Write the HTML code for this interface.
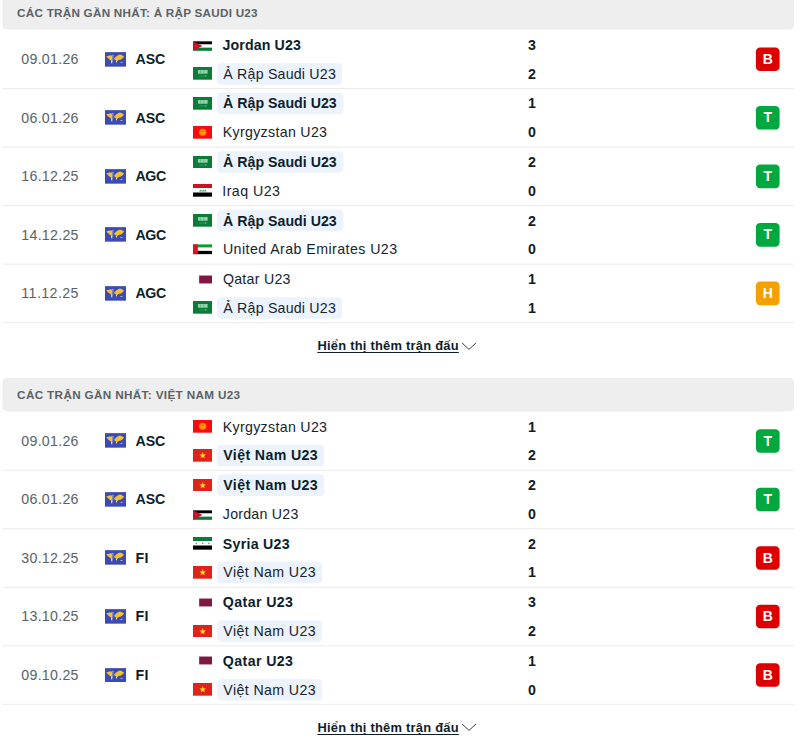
<!DOCTYPE html>
<html lang="vi"><head><meta charset="utf-8"><title>H2H</title><style>
html,body{margin:0;padding:0;background:#fff;}
body{width:800px;height:756px;position:relative;overflow:hidden;font-family:"Liberation Sans", sans-serif;}
.bg{position:absolute;left:0;top:0;display:block;}
.t{position:absolute;white-space:pre;line-height:16px;}
.fl{position:absolute;display:block;overflow:hidden;}
</style></head>
<body>

<svg class="bg" width="800" height="756" viewBox="0 0 800 756">
<rect x="2.5" y="-4.2" width="791.6" height="33.8" rx="4.5" fill="#eeeeee"/>
<rect x="217.2" y="63.15" width="124.90" height="21.5" rx="4" fill="#ecf3fc"/>
<rect x="755.9" y="47.50" width="23.7" height="23.6" rx="4.2" fill="#dc0000"/>
<rect x="2.5" y="88.10" width="791.6" height="1" fill="#ebebeb"/>
<rect x="217.2" y="92.82" width="126.15" height="21.5" rx="4" fill="#ecf3fc"/>
<rect x="755.9" y="106.02" width="23.7" height="23.6" rx="4.2" fill="#00a83f"/>
<rect x="2.5" y="146.62" width="791.6" height="1" fill="#ebebeb"/>
<rect x="217.2" y="151.34" width="126.15" height="21.5" rx="4" fill="#ecf3fc"/>
<rect x="755.9" y="164.54" width="23.7" height="23.6" rx="4.2" fill="#00a83f"/>
<rect x="2.5" y="205.14" width="791.6" height="1" fill="#ebebeb"/>
<rect x="217.2" y="209.86" width="126.15" height="21.5" rx="4" fill="#ecf3fc"/>
<rect x="755.9" y="223.06" width="23.7" height="23.6" rx="4.2" fill="#00a83f"/>
<rect x="2.5" y="263.66" width="791.6" height="1" fill="#ebebeb"/>
<rect x="217.2" y="297.23" width="124.90" height="21.5" rx="4" fill="#ecf3fc"/>
<rect x="755.9" y="281.58" width="23.7" height="23.6" rx="4.2" fill="#f3a000"/>
<rect x="2.5" y="322.18" width="791.6" height="1" fill="#ebebeb"/>
<rect x="2.5" y="378.1" width="791.6" height="33.3" rx="4.5" fill="#eeeeee"/>
<rect x="217.2" y="444.80" width="106.80" height="21.5" rx="4" fill="#ecf3fc"/>
<rect x="755.9" y="429.15" width="23.7" height="23.6" rx="4.2" fill="#00a83f"/>
<rect x="2.5" y="469.75" width="791.6" height="1" fill="#ebebeb"/>
<rect x="217.2" y="474.47" width="106.80" height="21.5" rx="4" fill="#ecf3fc"/>
<rect x="755.9" y="487.67" width="23.7" height="23.6" rx="4.2" fill="#00a83f"/>
<rect x="2.5" y="528.27" width="791.6" height="1" fill="#ebebeb"/>
<rect x="217.2" y="561.84" width="104.80" height="21.5" rx="4" fill="#ecf3fc"/>
<rect x="755.9" y="546.19" width="23.7" height="23.6" rx="4.2" fill="#dc0000"/>
<rect x="2.5" y="586.79" width="791.6" height="1" fill="#ebebeb"/>
<rect x="217.2" y="620.36" width="104.80" height="21.5" rx="4" fill="#ecf3fc"/>
<rect x="755.9" y="604.71" width="23.7" height="23.6" rx="4.2" fill="#dc0000"/>
<rect x="2.5" y="645.31" width="791.6" height="1" fill="#ebebeb"/>
<rect x="217.2" y="678.88" width="104.80" height="21.5" rx="4" fill="#ecf3fc"/>
<rect x="755.9" y="663.23" width="23.7" height="23.6" rx="4.2" fill="#dc0000"/>
<rect x="2.5" y="703.83" width="791.6" height="1" fill="#ebebeb"/>
</svg>
<span class="t" style="top:5px;font-size:11.7px;font-weight:700;color:#596266;letter-spacing:0.250px;left:17.10px;">CÁC TRẬN GẦN NHẤT: Ả RẬP SAUDI U23</span>
<span class="t" style="top:51px;font-size:14.2px;font-weight:400;color:#596266;letter-spacing:0.281px;left:21.30px;">09.01.26</span>
<svg class="fl" style="left:105px;top:51.80px" width="21.3" height="14.8" viewBox="0 0 22 15"><rect width="22" height="15" fill="#3b4ab4"/>
<path d="M1.2 4.5 L3.6 3.7 L6.6 3.1 L7.7 4.6 L7.5 7.1 L6.8 9 L4.65 7.5 L2.85 5.95 Z" fill="#f4c12d"/>
<path d="M6.2 8.5 L7.8 9 L7.3 12 L6.4 11.1 Z" fill="#ece6d6"/>
<circle cx="8.1" cy="3.2" r=".55" fill="#e4e1dc"/>
<path d="M8.5 3.4 L7.95 9" stroke="#c3c6e0" stroke-width=".6" fill="none"/>
<path d="M9.2 7.1 L11.2 4.7 L13.4 3.25 L15.5 2.4 L17.6 3.25 L19.7 4.55 L18.3 6.35 L16.5 7.55 L14.5 7.75 L12.65 9.1 L11.4 8.7 L10.3 7.9 Z" fill="#f4c12d"/>
<path d="M11.3 8.6 L12.65 9 L12.1 10.85 L11.4 10.5 Z" fill="#efd79a"/>
<path d="M15.9 10.1 L18.1 10.2 L18 11.05 L16.1 10.95 Z" fill="#d9d6c8"/>
</svg>
<span class="t" style="top:51px;font-size:14.2px;font-weight:700;color:#0e1e2b;letter-spacing:-0.184px;left:135.60px;">ASC</span>
<svg class="fl" style="left:193px;top:38.50px" width="19.2" height="12.7" viewBox="0 0 19 13" preserveAspectRatio="none"><rect y="2.4" width="19" height="3.25" fill="#000"/><rect y="5.65" width="19" height="3.2" fill="#fff"/><rect y="8.85" width="19" height="3.25" fill="#0a7a35"/><path d="M0 2.4 L9.3 7.25 L0 12.1 Z" fill="#ce1126"/><circle cx="3" cy="7.25" r="0.8" fill="#e0304a"/></svg>
<span class="t" style="top:37px;font-size:14.2px;font-weight:700;color:#0e1e2b;letter-spacing:0.124px;left:222.50px;">Jordan U23</span>
<span class="t" style="top:37px;font-size:14.2px;font-weight:700;color:#0e1e2b;left:512.00px;width:40px;text-align:center;">3</span>
<svg class="fl" style="left:193px;top:67.35px" width="19.2" height="12.7" viewBox="0 0 19 13" preserveAspectRatio="none"><rect width="19" height="13" fill="#0b7c38"/><rect x="4.9" y="3.1" width="9.6" height="3.7" rx=".4" fill="#a2d9b7" opacity=".9"/><rect x="7.2" y="3.1" width=".7" height="3.7" fill="#0b7c38" opacity=".35"/><rect x="10.4" y="3.1" width=".7" height="3.7" fill="#0b7c38" opacity=".35"/><rect x="6.2" y="8.9" width="6.4" height=".7" fill="#3fa468"/><rect x="12.2" y="8.5" width="1.1" height="1.3" fill="#6dd095"/></svg>
<span class="t" style="top:66px;font-size:14.2px;font-weight:400;color:#16242f;letter-spacing:0.204px;left:223.30px;">Ả Rập Saudi U23</span>
<span class="t" style="top:66px;font-size:14.2px;font-weight:700;color:#0e1e2b;left:512.00px;width:40px;text-align:center;">2</span>
<span class="t" style="top:51px;font-size:14.0px;font-weight:700;color:#fff;left:747.80px;width:40px;text-align:center;">B</span>
<span class="t" style="top:110px;font-size:14.2px;font-weight:400;color:#596266;letter-spacing:0.281px;left:21.30px;">06.01.26</span>
<svg class="fl" style="left:105px;top:110.32px" width="21.3" height="14.8" viewBox="0 0 22 15"><rect width="22" height="15" fill="#3b4ab4"/>
<path d="M1.2 4.5 L3.6 3.7 L6.6 3.1 L7.7 4.6 L7.5 7.1 L6.8 9 L4.65 7.5 L2.85 5.95 Z" fill="#f4c12d"/>
<path d="M6.2 8.5 L7.8 9 L7.3 12 L6.4 11.1 Z" fill="#ece6d6"/>
<circle cx="8.1" cy="3.2" r=".55" fill="#e4e1dc"/>
<path d="M8.5 3.4 L7.95 9" stroke="#c3c6e0" stroke-width=".6" fill="none"/>
<path d="M9.2 7.1 L11.2 4.7 L13.4 3.25 L15.5 2.4 L17.6 3.25 L19.7 4.55 L18.3 6.35 L16.5 7.55 L14.5 7.75 L12.65 9.1 L11.4 8.7 L10.3 7.9 Z" fill="#f4c12d"/>
<path d="M11.3 8.6 L12.65 9 L12.1 10.85 L11.4 10.5 Z" fill="#efd79a"/>
<path d="M15.9 10.1 L18.1 10.2 L18 11.05 L16.1 10.95 Z" fill="#d9d6c8"/>
</svg>
<span class="t" style="top:110px;font-size:14.2px;font-weight:700;color:#0e1e2b;letter-spacing:-0.184px;left:135.60px;">ASC</span>
<svg class="fl" style="left:193px;top:97.02px" width="19.2" height="12.7" viewBox="0 0 19 13" preserveAspectRatio="none"><rect width="19" height="13" fill="#0b7c38"/><rect x="4.9" y="3.1" width="9.6" height="3.7" rx=".4" fill="#a2d9b7" opacity=".9"/><rect x="7.2" y="3.1" width=".7" height="3.7" fill="#0b7c38" opacity=".35"/><rect x="10.4" y="3.1" width=".7" height="3.7" fill="#0b7c38" opacity=".35"/><rect x="6.2" y="8.9" width="6.4" height=".7" fill="#3fa468"/><rect x="12.2" y="8.5" width="1.1" height="1.3" fill="#6dd095"/></svg>
<span class="t" style="top:95px;font-size:14.2px;font-weight:700;color:#0e1e2b;letter-spacing:0.016px;left:223.00px;">Ả Rập Saudi U23</span>
<span class="t" style="top:95px;font-size:14.2px;font-weight:700;color:#0e1e2b;left:512.00px;width:40px;text-align:center;">1</span>
<svg class="fl" style="left:193px;top:125.87px" width="19.2" height="12.7" viewBox="0 0 19 13" preserveAspectRatio="none"><rect width="19" height="13" fill="#f80a10"/><circle cx="9.6" cy="6.4" r="3.6" fill="#ff8a00"/><circle cx="9.6" cy="6.4" r="1.8" fill="#ff9a10"/><rect x="8.6" y="5.4" width="2" height=".6" fill="#e54800"/></svg>
<span class="t" style="top:124px;font-size:14.2px;font-weight:400;color:#16242f;letter-spacing:0.311px;left:222.80px;">Kyrgyzstan U23</span>
<span class="t" style="top:124px;font-size:14.2px;font-weight:700;color:#0e1e2b;left:512.00px;width:40px;text-align:center;">0</span>
<span class="t" style="top:109px;font-size:14.0px;font-weight:700;color:#fff;left:747.80px;width:40px;text-align:center;">T</span>
<span class="t" style="top:168px;font-size:14.2px;font-weight:400;color:#596266;letter-spacing:0.281px;left:21.30px;">16.12.25</span>
<svg class="fl" style="left:105px;top:168.84px" width="21.3" height="14.8" viewBox="0 0 22 15"><rect width="22" height="15" fill="#3b4ab4"/>
<path d="M1.2 4.5 L3.6 3.7 L6.6 3.1 L7.7 4.6 L7.5 7.1 L6.8 9 L4.65 7.5 L2.85 5.95 Z" fill="#f4c12d"/>
<path d="M6.2 8.5 L7.8 9 L7.3 12 L6.4 11.1 Z" fill="#ece6d6"/>
<circle cx="8.1" cy="3.2" r=".55" fill="#e4e1dc"/>
<path d="M8.5 3.4 L7.95 9" stroke="#c3c6e0" stroke-width=".6" fill="none"/>
<path d="M9.2 7.1 L11.2 4.7 L13.4 3.25 L15.5 2.4 L17.6 3.25 L19.7 4.55 L18.3 6.35 L16.5 7.55 L14.5 7.75 L12.65 9.1 L11.4 8.7 L10.3 7.9 Z" fill="#f4c12d"/>
<path d="M11.3 8.6 L12.65 9 L12.1 10.85 L11.4 10.5 Z" fill="#efd79a"/>
<path d="M15.9 10.1 L18.1 10.2 L18 11.05 L16.1 10.95 Z" fill="#d9d6c8"/>
</svg>
<span class="t" style="top:168px;font-size:14.2px;font-weight:700;color:#0e1e2b;letter-spacing:-0.466px;left:135.60px;">AGC</span>
<svg class="fl" style="left:193px;top:155.54px" width="19.2" height="12.7" viewBox="0 0 19 13" preserveAspectRatio="none"><rect width="19" height="13" fill="#0b7c38"/><rect x="4.9" y="3.1" width="9.6" height="3.7" rx=".4" fill="#a2d9b7" opacity=".9"/><rect x="7.2" y="3.1" width=".7" height="3.7" fill="#0b7c38" opacity=".35"/><rect x="10.4" y="3.1" width=".7" height="3.7" fill="#0b7c38" opacity=".35"/><rect x="6.2" y="8.9" width="6.4" height=".7" fill="#3fa468"/><rect x="12.2" y="8.5" width="1.1" height="1.3" fill="#6dd095"/></svg>
<span class="t" style="top:154px;font-size:14.2px;font-weight:700;color:#0e1e2b;letter-spacing:0.016px;left:223.00px;">Ả Rập Saudi U23</span>
<span class="t" style="top:154px;font-size:14.2px;font-weight:700;color:#0e1e2b;left:512.00px;width:40px;text-align:center;">2</span>
<svg class="fl" style="left:193px;top:184.39px" width="19.2" height="12.7" viewBox="0 0 19 13" preserveAspectRatio="none"><rect width="19" height="4.3" fill="#ce1126"/><rect y="4.3" width="19" height="4.4" fill="#fff"/><rect y="8.7" width="19" height="4.3" fill="#000"/><path d="M5.6 7.6 L7.4 5.6 L9 7 L10.4 5.6 L11.6 7 L12.6 5.4 L13.4 7.6 Z" fill="#2c9a5a" opacity=".8"/></svg>
<span class="t" style="top:183px;font-size:14.2px;font-weight:400;color:#16242f;letter-spacing:0.454px;left:222.30px;">Iraq U23</span>
<span class="t" style="top:183px;font-size:14.2px;font-weight:700;color:#0e1e2b;left:512.00px;width:40px;text-align:center;">0</span>
<span class="t" style="top:168px;font-size:14.0px;font-weight:700;color:#fff;left:747.80px;width:40px;text-align:center;">T</span>
<span class="t" style="top:227px;font-size:14.2px;font-weight:400;color:#596266;letter-spacing:0.281px;left:21.30px;">14.12.25</span>
<svg class="fl" style="left:105px;top:227.36px" width="21.3" height="14.8" viewBox="0 0 22 15"><rect width="22" height="15" fill="#3b4ab4"/>
<path d="M1.2 4.5 L3.6 3.7 L6.6 3.1 L7.7 4.6 L7.5 7.1 L6.8 9 L4.65 7.5 L2.85 5.95 Z" fill="#f4c12d"/>
<path d="M6.2 8.5 L7.8 9 L7.3 12 L6.4 11.1 Z" fill="#ece6d6"/>
<circle cx="8.1" cy="3.2" r=".55" fill="#e4e1dc"/>
<path d="M8.5 3.4 L7.95 9" stroke="#c3c6e0" stroke-width=".6" fill="none"/>
<path d="M9.2 7.1 L11.2 4.7 L13.4 3.25 L15.5 2.4 L17.6 3.25 L19.7 4.55 L18.3 6.35 L16.5 7.55 L14.5 7.75 L12.65 9.1 L11.4 8.7 L10.3 7.9 Z" fill="#f4c12d"/>
<path d="M11.3 8.6 L12.65 9 L12.1 10.85 L11.4 10.5 Z" fill="#efd79a"/>
<path d="M15.9 10.1 L18.1 10.2 L18 11.05 L16.1 10.95 Z" fill="#d9d6c8"/>
</svg>
<span class="t" style="top:227px;font-size:14.2px;font-weight:700;color:#0e1e2b;letter-spacing:-0.466px;left:135.60px;">AGC</span>
<svg class="fl" style="left:193px;top:214.06px" width="19.2" height="12.7" viewBox="0 0 19 13" preserveAspectRatio="none"><rect width="19" height="13" fill="#0b7c38"/><rect x="4.9" y="3.1" width="9.6" height="3.7" rx=".4" fill="#a2d9b7" opacity=".9"/><rect x="7.2" y="3.1" width=".7" height="3.7" fill="#0b7c38" opacity=".35"/><rect x="10.4" y="3.1" width=".7" height="3.7" fill="#0b7c38" opacity=".35"/><rect x="6.2" y="8.9" width="6.4" height=".7" fill="#3fa468"/><rect x="12.2" y="8.5" width="1.1" height="1.3" fill="#6dd095"/></svg>
<span class="t" style="top:213px;font-size:14.2px;font-weight:700;color:#0e1e2b;letter-spacing:0.016px;left:223.00px;">Ả Rập Saudi U23</span>
<span class="t" style="top:213px;font-size:14.2px;font-weight:700;color:#0e1e2b;left:512.00px;width:40px;text-align:center;">2</span>
<svg class="fl" style="left:193px;top:242.91px" width="19.2" height="12.7" viewBox="0 0 19 13" preserveAspectRatio="none"><rect y="1.4" width="19" height="3.35" fill="#0aa030"/><rect y="4.75" width="19" height="3.3" fill="#fff"/><rect y="8.05" width="19" height="3.35" fill="#000"/><rect y="1.4" width="4.8" height="10" fill="#e0101e"/></svg>
<span class="t" style="top:241px;font-size:14.2px;font-weight:400;color:#16242f;letter-spacing:0.442px;left:222.90px;">United Arab Emirates U23</span>
<span class="t" style="top:241px;font-size:14.2px;font-weight:700;color:#0e1e2b;left:512.00px;width:40px;text-align:center;">0</span>
<span class="t" style="top:226px;font-size:14.0px;font-weight:700;color:#fff;left:747.80px;width:40px;text-align:center;">T</span>
<span class="t" style="top:285px;font-size:14.2px;font-weight:400;color:#596266;letter-spacing:0.430px;left:21.30px;">11.12.25</span>
<svg class="fl" style="left:105px;top:285.88px" width="21.3" height="14.8" viewBox="0 0 22 15"><rect width="22" height="15" fill="#3b4ab4"/>
<path d="M1.2 4.5 L3.6 3.7 L6.6 3.1 L7.7 4.6 L7.5 7.1 L6.8 9 L4.65 7.5 L2.85 5.95 Z" fill="#f4c12d"/>
<path d="M6.2 8.5 L7.8 9 L7.3 12 L6.4 11.1 Z" fill="#ece6d6"/>
<circle cx="8.1" cy="3.2" r=".55" fill="#e4e1dc"/>
<path d="M8.5 3.4 L7.95 9" stroke="#c3c6e0" stroke-width=".6" fill="none"/>
<path d="M9.2 7.1 L11.2 4.7 L13.4 3.25 L15.5 2.4 L17.6 3.25 L19.7 4.55 L18.3 6.35 L16.5 7.55 L14.5 7.75 L12.65 9.1 L11.4 8.7 L10.3 7.9 Z" fill="#f4c12d"/>
<path d="M11.3 8.6 L12.65 9 L12.1 10.85 L11.4 10.5 Z" fill="#efd79a"/>
<path d="M15.9 10.1 L18.1 10.2 L18 11.05 L16.1 10.95 Z" fill="#d9d6c8"/>
</svg>
<span class="t" style="top:285px;font-size:14.2px;font-weight:700;color:#0e1e2b;letter-spacing:-0.466px;left:135.60px;">AGC</span>
<svg class="fl" style="left:193px;top:272.58px" width="19.2" height="12.7" viewBox="0 0 19 13" preserveAspectRatio="none"><rect x="6.1" y="2.6" width="12.9" height="8.1" fill="#7f1944"/></svg>
<span class="t" style="top:271px;font-size:14.2px;font-weight:400;color:#16242f;letter-spacing:0.268px;left:222.90px;">Qatar U23</span>
<span class="t" style="top:271px;font-size:14.2px;font-weight:700;color:#0e1e2b;left:512.00px;width:40px;text-align:center;">1</span>
<svg class="fl" style="left:193px;top:301.43px" width="19.2" height="12.7" viewBox="0 0 19 13" preserveAspectRatio="none"><rect width="19" height="13" fill="#0b7c38"/><rect x="4.9" y="3.1" width="9.6" height="3.7" rx=".4" fill="#a2d9b7" opacity=".9"/><rect x="7.2" y="3.1" width=".7" height="3.7" fill="#0b7c38" opacity=".35"/><rect x="10.4" y="3.1" width=".7" height="3.7" fill="#0b7c38" opacity=".35"/><rect x="6.2" y="8.9" width="6.4" height=".7" fill="#3fa468"/><rect x="12.2" y="8.5" width="1.1" height="1.3" fill="#6dd095"/></svg>
<span class="t" style="top:300px;font-size:14.2px;font-weight:400;color:#16242f;letter-spacing:0.204px;left:223.30px;">Ả Rập Saudi U23</span>
<span class="t" style="top:300px;font-size:14.2px;font-weight:700;color:#0e1e2b;left:512.00px;width:40px;text-align:center;">1</span>
<span class="t" style="top:285px;font-size:14.0px;font-weight:700;color:#fff;left:747.80px;width:40px;text-align:center;">H</span>
<span class="t" style="top:338px;font-size:12.9px;font-weight:700;color:#0e1e2b;letter-spacing:0.244px;left:317.40px;text-decoration:underline;text-underline-offset:1.5px;text-decoration-thickness:1px;">Hiển thị thêm trận đấu</span>
<svg class="fl" style="left:461.4px;top:341.50px" width="16" height="9" viewBox="0 0 16 9"><path d="M1 1 L8 7.4 L15 1" fill="none" stroke="#2c3945" stroke-width="0.95"/></svg>
<span class="t" style="top:387px;font-size:11.7px;font-weight:700;color:#596266;letter-spacing:0.356px;left:17.10px;">CÁC TRẬN GẦN NHẤT: VIỆT NAM U23</span>
<span class="t" style="top:433px;font-size:14.2px;font-weight:400;color:#596266;letter-spacing:0.281px;left:21.30px;">09.01.26</span>
<svg class="fl" style="left:105px;top:433.45px" width="21.3" height="14.8" viewBox="0 0 22 15"><rect width="22" height="15" fill="#3b4ab4"/>
<path d="M1.2 4.5 L3.6 3.7 L6.6 3.1 L7.7 4.6 L7.5 7.1 L6.8 9 L4.65 7.5 L2.85 5.95 Z" fill="#f4c12d"/>
<path d="M6.2 8.5 L7.8 9 L7.3 12 L6.4 11.1 Z" fill="#ece6d6"/>
<circle cx="8.1" cy="3.2" r=".55" fill="#e4e1dc"/>
<path d="M8.5 3.4 L7.95 9" stroke="#c3c6e0" stroke-width=".6" fill="none"/>
<path d="M9.2 7.1 L11.2 4.7 L13.4 3.25 L15.5 2.4 L17.6 3.25 L19.7 4.55 L18.3 6.35 L16.5 7.55 L14.5 7.75 L12.65 9.1 L11.4 8.7 L10.3 7.9 Z" fill="#f4c12d"/>
<path d="M11.3 8.6 L12.65 9 L12.1 10.85 L11.4 10.5 Z" fill="#efd79a"/>
<path d="M15.9 10.1 L18.1 10.2 L18 11.05 L16.1 10.95 Z" fill="#d9d6c8"/>
</svg>
<span class="t" style="top:433px;font-size:14.2px;font-weight:700;color:#0e1e2b;letter-spacing:-0.184px;left:135.60px;">ASC</span>
<svg class="fl" style="left:193px;top:420.15px" width="19.2" height="12.7" viewBox="0 0 19 13" preserveAspectRatio="none"><rect width="19" height="13" fill="#f80a10"/><circle cx="9.6" cy="6.4" r="3.6" fill="#ff8a00"/><circle cx="9.6" cy="6.4" r="1.8" fill="#ff9a10"/><rect x="8.6" y="5.4" width="2" height=".6" fill="#e54800"/></svg>
<span class="t" style="top:419px;font-size:14.2px;font-weight:400;color:#16242f;letter-spacing:0.311px;left:222.80px;">Kyrgyzstan U23</span>
<span class="t" style="top:419px;font-size:14.2px;font-weight:700;color:#0e1e2b;left:512.00px;width:40px;text-align:center;">1</span>
<svg class="fl" style="left:193px;top:449.00px" width="19.2" height="12.7" viewBox="0 0 19 13" preserveAspectRatio="none"><rect width="19" height="13" fill="#de241a"/><path d="M9.60 3.20 L10.42 5.57 L12.93 5.62 L10.93 7.13 L11.66 9.53 L9.60 8.10 L7.54 9.53 L8.27 7.13 L6.27 5.62 L8.78 5.57 Z" fill="#ffde20"/></svg>
<span class="t" style="top:447px;font-size:14.2px;font-weight:700;color:#0e1e2b;letter-spacing:0.360px;left:223.30px;">Việt Nam U23</span>
<span class="t" style="top:447px;font-size:14.2px;font-weight:700;color:#0e1e2b;left:512.00px;width:40px;text-align:center;">2</span>
<span class="t" style="top:433px;font-size:14.0px;font-weight:700;color:#fff;left:747.80px;width:40px;text-align:center;">T</span>
<span class="t" style="top:491px;font-size:14.2px;font-weight:400;color:#596266;letter-spacing:0.281px;left:21.30px;">06.01.26</span>
<svg class="fl" style="left:105px;top:491.97px" width="21.3" height="14.8" viewBox="0 0 22 15"><rect width="22" height="15" fill="#3b4ab4"/>
<path d="M1.2 4.5 L3.6 3.7 L6.6 3.1 L7.7 4.6 L7.5 7.1 L6.8 9 L4.65 7.5 L2.85 5.95 Z" fill="#f4c12d"/>
<path d="M6.2 8.5 L7.8 9 L7.3 12 L6.4 11.1 Z" fill="#ece6d6"/>
<circle cx="8.1" cy="3.2" r=".55" fill="#e4e1dc"/>
<path d="M8.5 3.4 L7.95 9" stroke="#c3c6e0" stroke-width=".6" fill="none"/>
<path d="M9.2 7.1 L11.2 4.7 L13.4 3.25 L15.5 2.4 L17.6 3.25 L19.7 4.55 L18.3 6.35 L16.5 7.55 L14.5 7.75 L12.65 9.1 L11.4 8.7 L10.3 7.9 Z" fill="#f4c12d"/>
<path d="M11.3 8.6 L12.65 9 L12.1 10.85 L11.4 10.5 Z" fill="#efd79a"/>
<path d="M15.9 10.1 L18.1 10.2 L18 11.05 L16.1 10.95 Z" fill="#d9d6c8"/>
</svg>
<span class="t" style="top:491px;font-size:14.2px;font-weight:700;color:#0e1e2b;letter-spacing:-0.184px;left:135.60px;">ASC</span>
<svg class="fl" style="left:193px;top:478.67px" width="19.2" height="12.7" viewBox="0 0 19 13" preserveAspectRatio="none"><rect width="19" height="13" fill="#de241a"/><path d="M9.60 3.20 L10.42 5.57 L12.93 5.62 L10.93 7.13 L11.66 9.53 L9.60 8.10 L7.54 9.53 L8.27 7.13 L6.27 5.62 L8.78 5.57 Z" fill="#ffde20"/></svg>
<span class="t" style="top:477px;font-size:14.2px;font-weight:700;color:#0e1e2b;letter-spacing:0.360px;left:223.30px;">Việt Nam U23</span>
<span class="t" style="top:477px;font-size:14.2px;font-weight:700;color:#0e1e2b;left:512.00px;width:40px;text-align:center;">2</span>
<svg class="fl" style="left:193px;top:507.52px" width="19.2" height="12.7" viewBox="0 0 19 13" preserveAspectRatio="none"><rect y="2.4" width="19" height="3.25" fill="#000"/><rect y="5.65" width="19" height="3.2" fill="#fff"/><rect y="8.85" width="19" height="3.25" fill="#0a7a35"/><path d="M0 2.4 L9.3 7.25 L0 12.1 Z" fill="#ce1126"/><circle cx="3" cy="7.25" r="0.8" fill="#e0304a"/></svg>
<span class="t" style="top:506px;font-size:14.2px;font-weight:400;color:#16242f;letter-spacing:0.238px;left:222.80px;">Jordan U23</span>
<span class="t" style="top:506px;font-size:14.2px;font-weight:700;color:#0e1e2b;left:512.00px;width:40px;text-align:center;">0</span>
<span class="t" style="top:491px;font-size:14.0px;font-weight:700;color:#fff;left:747.80px;width:40px;text-align:center;">T</span>
<span class="t" style="top:550px;font-size:14.2px;font-weight:400;color:#596266;letter-spacing:0.281px;left:21.30px;">30.12.25</span>
<svg class="fl" style="left:105px;top:550.49px" width="21.3" height="14.8" viewBox="0 0 22 15"><rect width="22" height="15" fill="#3b4ab4"/>
<path d="M1.2 4.5 L3.6 3.7 L6.6 3.1 L7.7 4.6 L7.5 7.1 L6.8 9 L4.65 7.5 L2.85 5.95 Z" fill="#f4c12d"/>
<path d="M6.2 8.5 L7.8 9 L7.3 12 L6.4 11.1 Z" fill="#ece6d6"/>
<circle cx="8.1" cy="3.2" r=".55" fill="#e4e1dc"/>
<path d="M8.5 3.4 L7.95 9" stroke="#c3c6e0" stroke-width=".6" fill="none"/>
<path d="M9.2 7.1 L11.2 4.7 L13.4 3.25 L15.5 2.4 L17.6 3.25 L19.7 4.55 L18.3 6.35 L16.5 7.55 L14.5 7.75 L12.65 9.1 L11.4 8.7 L10.3 7.9 Z" fill="#f4c12d"/>
<path d="M11.3 8.6 L12.65 9 L12.1 10.85 L11.4 10.5 Z" fill="#efd79a"/>
<path d="M15.9 10.1 L18.1 10.2 L18 11.05 L16.1 10.95 Z" fill="#d9d6c8"/>
</svg>
<span class="t" style="top:550px;font-size:14.2px;font-weight:700;color:#0e1e2b;letter-spacing:0.291px;left:135.60px;">FI</span>
<svg class="fl" style="left:193px;top:537.19px" width="19.2" height="12.7" viewBox="0 0 19 13" preserveAspectRatio="none"><rect width="19" height="4.3" fill="#0a7a3d"/><rect y="4.3" width="19" height="4.4" fill="#fff"/><rect y="8.7" width="19" height="4.3" fill="#000"/><circle cx="3.3" cy="6.6" r=".85" fill="#d8687a"/><circle cx="9.6" cy="6.6" r=".85" fill="#d8687a"/><circle cx="15.8" cy="6.6" r=".85" fill="#d8687a"/></svg>
<span class="t" style="top:536px;font-size:14.2px;font-weight:700;color:#0e1e2b;letter-spacing:0.264px;left:222.80px;">Syria U23</span>
<span class="t" style="top:536px;font-size:14.2px;font-weight:700;color:#0e1e2b;left:512.00px;width:40px;text-align:center;">2</span>
<svg class="fl" style="left:193px;top:566.04px" width="19.2" height="12.7" viewBox="0 0 19 13" preserveAspectRatio="none"><rect width="19" height="13" fill="#de241a"/><path d="M9.60 3.20 L10.42 5.57 L12.93 5.62 L10.93 7.13 L11.66 9.53 L9.60 8.10 L7.54 9.53 L8.27 7.13 L6.27 5.62 L8.78 5.57 Z" fill="#ffde20"/></svg>
<span class="t" style="top:564px;font-size:14.2px;font-weight:400;color:#16242f;letter-spacing:0.394px;left:223.30px;">Việt Nam U23</span>
<span class="t" style="top:564px;font-size:14.2px;font-weight:700;color:#0e1e2b;left:512.00px;width:40px;text-align:center;">1</span>
<span class="t" style="top:550px;font-size:14.0px;font-weight:700;color:#fff;left:747.80px;width:40px;text-align:center;">B</span>
<span class="t" style="top:608px;font-size:14.2px;font-weight:400;color:#596266;letter-spacing:0.281px;left:21.30px;">13.10.25</span>
<svg class="fl" style="left:105px;top:609.01px" width="21.3" height="14.8" viewBox="0 0 22 15"><rect width="22" height="15" fill="#3b4ab4"/>
<path d="M1.2 4.5 L3.6 3.7 L6.6 3.1 L7.7 4.6 L7.5 7.1 L6.8 9 L4.65 7.5 L2.85 5.95 Z" fill="#f4c12d"/>
<path d="M6.2 8.5 L7.8 9 L7.3 12 L6.4 11.1 Z" fill="#ece6d6"/>
<circle cx="8.1" cy="3.2" r=".55" fill="#e4e1dc"/>
<path d="M8.5 3.4 L7.95 9" stroke="#c3c6e0" stroke-width=".6" fill="none"/>
<path d="M9.2 7.1 L11.2 4.7 L13.4 3.25 L15.5 2.4 L17.6 3.25 L19.7 4.55 L18.3 6.35 L16.5 7.55 L14.5 7.75 L12.65 9.1 L11.4 8.7 L10.3 7.9 Z" fill="#f4c12d"/>
<path d="M11.3 8.6 L12.65 9 L12.1 10.85 L11.4 10.5 Z" fill="#efd79a"/>
<path d="M15.9 10.1 L18.1 10.2 L18 11.05 L16.1 10.95 Z" fill="#d9d6c8"/>
</svg>
<span class="t" style="top:608px;font-size:14.2px;font-weight:700;color:#0e1e2b;letter-spacing:0.291px;left:135.60px;">FI</span>
<svg class="fl" style="left:193px;top:595.71px" width="19.2" height="12.7" viewBox="0 0 19 13" preserveAspectRatio="none"><rect x="6.1" y="2.6" width="12.9" height="8.1" fill="#7f1944"/></svg>
<span class="t" style="top:594px;font-size:14.2px;font-weight:700;color:#0e1e2b;letter-spacing:0.396px;left:222.80px;">Qatar U23</span>
<span class="t" style="top:594px;font-size:14.2px;font-weight:700;color:#0e1e2b;left:512.00px;width:40px;text-align:center;">3</span>
<svg class="fl" style="left:193px;top:624.56px" width="19.2" height="12.7" viewBox="0 0 19 13" preserveAspectRatio="none"><rect width="19" height="13" fill="#de241a"/><path d="M9.60 3.20 L10.42 5.57 L12.93 5.62 L10.93 7.13 L11.66 9.53 L9.60 8.10 L7.54 9.53 L8.27 7.13 L6.27 5.62 L8.78 5.57 Z" fill="#ffde20"/></svg>
<span class="t" style="top:623px;font-size:14.2px;font-weight:400;color:#16242f;letter-spacing:0.394px;left:223.30px;">Việt Nam U23</span>
<span class="t" style="top:623px;font-size:14.2px;font-weight:700;color:#0e1e2b;left:512.00px;width:40px;text-align:center;">2</span>
<span class="t" style="top:608px;font-size:14.0px;font-weight:700;color:#fff;left:747.80px;width:40px;text-align:center;">B</span>
<span class="t" style="top:667px;font-size:14.2px;font-weight:400;color:#596266;letter-spacing:0.281px;left:21.30px;">09.10.25</span>
<svg class="fl" style="left:105px;top:667.53px" width="21.3" height="14.8" viewBox="0 0 22 15"><rect width="22" height="15" fill="#3b4ab4"/>
<path d="M1.2 4.5 L3.6 3.7 L6.6 3.1 L7.7 4.6 L7.5 7.1 L6.8 9 L4.65 7.5 L2.85 5.95 Z" fill="#f4c12d"/>
<path d="M6.2 8.5 L7.8 9 L7.3 12 L6.4 11.1 Z" fill="#ece6d6"/>
<circle cx="8.1" cy="3.2" r=".55" fill="#e4e1dc"/>
<path d="M8.5 3.4 L7.95 9" stroke="#c3c6e0" stroke-width=".6" fill="none"/>
<path d="M9.2 7.1 L11.2 4.7 L13.4 3.25 L15.5 2.4 L17.6 3.25 L19.7 4.55 L18.3 6.35 L16.5 7.55 L14.5 7.75 L12.65 9.1 L11.4 8.7 L10.3 7.9 Z" fill="#f4c12d"/>
<path d="M11.3 8.6 L12.65 9 L12.1 10.85 L11.4 10.5 Z" fill="#efd79a"/>
<path d="M15.9 10.1 L18.1 10.2 L18 11.05 L16.1 10.95 Z" fill="#d9d6c8"/>
</svg>
<span class="t" style="top:667px;font-size:14.2px;font-weight:700;color:#0e1e2b;letter-spacing:0.291px;left:135.60px;">FI</span>
<svg class="fl" style="left:193px;top:654.23px" width="19.2" height="12.7" viewBox="0 0 19 13" preserveAspectRatio="none"><rect x="6.1" y="2.6" width="12.9" height="8.1" fill="#7f1944"/></svg>
<span class="t" style="top:653px;font-size:14.2px;font-weight:700;color:#0e1e2b;letter-spacing:0.396px;left:222.80px;">Qatar U23</span>
<span class="t" style="top:653px;font-size:14.2px;font-weight:700;color:#0e1e2b;left:512.00px;width:40px;text-align:center;">1</span>
<svg class="fl" style="left:193px;top:683.08px" width="19.2" height="12.7" viewBox="0 0 19 13" preserveAspectRatio="none"><rect width="19" height="13" fill="#de241a"/><path d="M9.60 3.20 L10.42 5.57 L12.93 5.62 L10.93 7.13 L11.66 9.53 L9.60 8.10 L7.54 9.53 L8.27 7.13 L6.27 5.62 L8.78 5.57 Z" fill="#ffde20"/></svg>
<span class="t" style="top:682px;font-size:14.2px;font-weight:400;color:#16242f;letter-spacing:0.394px;left:223.30px;">Việt Nam U23</span>
<span class="t" style="top:682px;font-size:14.2px;font-weight:700;color:#0e1e2b;left:512.00px;width:40px;text-align:center;">0</span>
<span class="t" style="top:667px;font-size:14.0px;font-weight:700;color:#fff;left:747.80px;width:40px;text-align:center;">B</span>
<span class="t" style="top:720px;font-size:12.9px;font-weight:700;color:#0e1e2b;letter-spacing:0.244px;left:317.40px;text-decoration:underline;text-underline-offset:1.5px;text-decoration-thickness:1px;">Hiển thị thêm trận đấu</span>
<svg class="fl" style="left:461.4px;top:723.15px" width="16" height="9" viewBox="0 0 16 9"><path d="M1 1 L8 7.4 L15 1" fill="none" stroke="#2c3945" stroke-width="0.95"/></svg>
</body></html>
